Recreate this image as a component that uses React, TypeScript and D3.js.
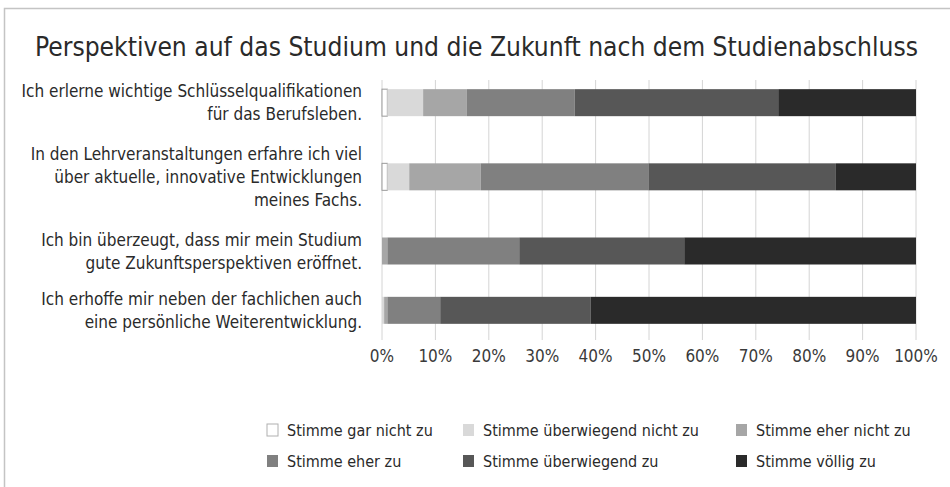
import React from "react";
import * as d3 from "d3";

const title = "Perspektiven auf das Studium und die Zukunft nach dem Studienabschluss";

const categories = ["Schlüsselqualifikationen", "Lehrveranstaltungen", "Zukunftsperspektiven", "Weiterentwicklung"];

const labelLines: string[][] = [
  ["Ich erlerne wichtige Schlüsselqualifikationen", "für das Berufsleben."],
  ["In den Lehrveranstaltungen erfahre ich viel", "über aktuelle, innovative Entwicklungen", "meines Fachs."],
  ["Ich bin überzeugt, dass mir mein Studium", "gute Zukunftsperspektiven eröffnet."],
  ["Ich erhoffe mir neben der fachlichen auch", "eine persönliche Weiterentwicklung."],
];

const seriesNames = [
  "Stimme gar nicht zu",
  "Stimme überwiegend nicht zu",
  "Stimme eher nicht zu",
  "Stimme eher zu",
  "Stimme überwiegend zu",
  "Stimme völlig zu",
];

const garNicht = [1.0, 1.0, 0, 0];
const ueberwiegendNicht = [6.7, 4.1, 0, 0.4];
const eherNicht = [8.2, 13.4, 1.0, 0.6];
const eherZu = [20.2, 31.4, 24.7, 9.9];
const ueberwiegendZu = [38.1, 35.1, 30.9, 28.2];
const voellig = [25.8, 15.0, 43.4, 60.9];

const seriesValues = [garNicht, ueberwiegendNicht, eherNicht, eherZu, ueberwiegendZu, voellig];

const tickValues = [0, 10, 20, 30, 40, 50, 60, 70, 80, 90, 100];

const colors = ["#ffffff", "#d9d9d9", "#a6a6a6", "#808080", "#575757", "#2a2a2a"];

const FONT = "'DejaVu Sans Condensed', 'DejaVu Sans', sans-serif";

export default function App() {
  const W = 950;
  const H = 487;
  const plotLeft = 382;
  const plotRight = 916;
  const plotTop = 73;
  const plotBottom = 340;
  const barH = 27;

  const x = d3.scaleLinear().domain([0, 100]).range([plotLeft, plotRight]);

  const lineCounts = labelLines.map((l) => l.length);
  const totalLines = d3.sum(lineCounts);
  const y = d3.scaleLinear().domain([0, totalLines]).range([plotTop, plotBottom]);
  const cum = d3.cumsum(lineCounts);
  const rowStart = lineCounts.map((c, i) => cum[i] - c);
  const rowCenter = (i: number) => y(rowStart[i] + lineCounts[i] / 2);

  const table = categories.map((c, i) => {
    const row: any = { cat: c };
    seriesNames.forEach((s, j) => (row[s] = seriesValues[j][i]));
    return row;
  });
  const stacked = d3.stack<any>().keys(seriesNames)(table);

  const legendCols = [267, 463, 736];
  const legendRows = [430, 461];

  return (
    <svg width={W} height={H} style={{ position: "absolute", left: 0, top: 0, background: "#fff" }}>
      <rect x={4.5} y={8.5} width={1000} height={1000} fill="#fff" stroke="#c4c4c4" strokeWidth={1.5} />
      <text x={35} y={56} fontFamily={FONT} fontSize={26} fill="#2a2a2a" textLength={883} lengthAdjust="spacingAndGlyphs">
        {title}
      </text>

      {tickValues.map((t) => (
        <line key={"g" + t} x1={x(t)} x2={x(t)} y1={plotTop + 7} y2={plotBottom} stroke="#d4d4d4" strokeWidth={1} />
      ))}
      {cum.slice(0, -1).map((c, i) => (
        <line key={"tk" + i} x1={plotLeft - 3} x2={plotLeft} y1={y(c)} y2={y(c)} stroke="#d4d4d4" />
      ))}

      {stacked.map((s, j) => (
        <g key={s.key}>
          {s.map((d, i) =>
            d[1] - d[0] > 0 ? (
              <rect
                key={i}
                x={x(d[0])}
                width={x(d[1]) - x(d[0])}
                y={rowCenter(i) - barH / 2}
                height={barH}
                fill={colors[j]}
                stroke={j === 0 ? "#9a9a9a" : "none"}
                strokeWidth={j === 0 ? 1 : 0}
              />
            ) : null
          )}
        </g>
      ))}

      {labelLines.map((lines, i) => {
        const lh = 23;
        const c = rowCenter(i);
        return (
          <text key={"l" + i} fontFamily={FONT} fontSize={17} fill="#2a2a2a" textAnchor="end">
            {lines.map((ln, k) => (
              <tspan key={k} x={362} y={c + (k - (lines.length - 1) / 2) * lh + 6}>
                {ln}
              </tspan>
            ))}
          </text>
        );
      })}

      {tickValues.map((t) => (
        <text key={"t" + t} x={x(t)} y={362} textAnchor="middle" fontFamily={FONT} fontSize={17} fill="#3a3a3a">
          {t + "%"}
        </text>
      ))}

      {seriesNames.map((n, j) => {
        const col = j % 3;
        const row = Math.floor(j / 3);
        const lx = legendCols[col];
        const ly = legendRows[row];
        return (
          <g key={"lg" + j}>
            <rect
              x={lx}
              y={ly - 6}
              width={11}
              height={12}
              fill={colors[j]}
              stroke={j === 0 ? "#b0b0b0" : "none"}
            />
            <text x={lx + 20} y={ly + 6} fontFamily={FONT} fontSize={16} fill="#2a2a2a">
              {n}
            </text>
          </g>
        );
      })}
    </svg>
  );
}
